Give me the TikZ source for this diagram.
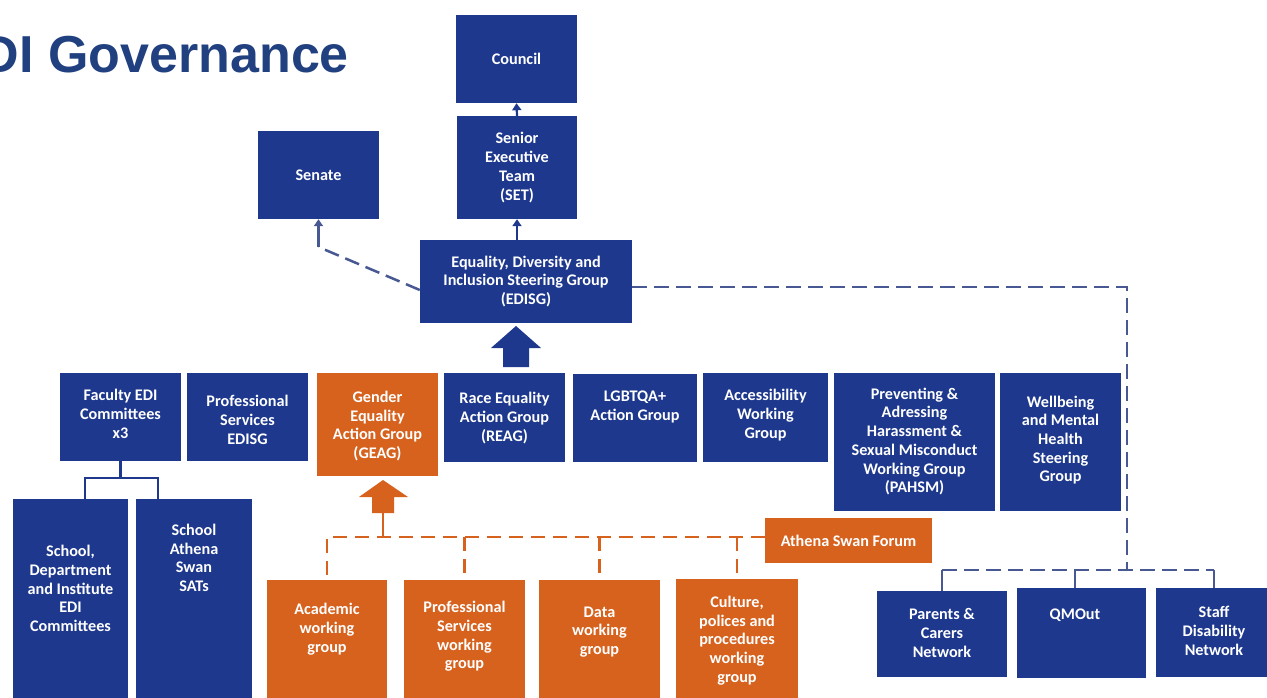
\documentclass[tikz,border=0pt]{standalone}
\usepackage{fontspec}
\setmainfont{Carlito}
\newfontfamily\titlefont{Liberation Sans}
\usetikzlibrary{arrows.meta,fit}
\definecolor{qblue}{RGB}{29,56,140}
\definecolor{qorange}{RGB}{214,98,30}
\definecolor{qtitle}{RGB}{33,64,128}
\definecolor{qdash}{RGB}{72,88,146}
\begin{document}
\begin{tikzpicture}[x=1pt,y=-1pt,
  bluebox/.style={fill=qblue,draw=none,inner sep=0pt},
  orangebox/.style={fill=qorange,draw=none,inner sep=0pt},
  lbl/.style={text=white,font=\bfseries\fontsize{16.2}{18.7}\selectfont,align=center,inner sep=0pt},
  link/.style={draw=qblue,line width=2.2pt},
  slink/.style={draw=qdash,line width=2.5pt},
  tipped/.style={-{Triangle[width=9pt,length=7pt]}},
  bdash/.style={draw=qdash,line width=2.5pt,dash pattern=on 15pt off 7pt},
  odash/.style={draw=qorange,line width=2.5pt,dash pattern=on 14pt off 8pt},
]
\useasboundingbox (0,0) rectangle (1267,697);
\fill[white] (0,0) rectangle (1267,697);

% title
\node[anchor=base west,text=qtitle,font=\titlefont\bfseries\fontsize{52}{60}\selectfont,inner sep=0pt] (title) at (-53,72) {EDI Governance};

% top level
\node[bluebox,fit={(456,15) (577,103)}] (council) {};
\node[lbl] (council-t) at (council.center) {Council};
\node[bluebox,fit={(457,116) (577,219)}] (set) {};
\node[lbl] (set-t) at (set.center) {Senior\\Executive\\Team\\(SET)};
\node[bluebox,fit={(258,131) (379,219)}] (senate) {};
\node[lbl] (senate-t) at (senate.center) {Senate};
\node[bluebox,fit={(420,240) (632,323)}] (edisg) {};
\node[lbl] (edisg-t) at (edisg.center) {Equality, Diversity and\\Inclusion Steering Group\\(EDISG)};

% middle row
\node[bluebox,fit={(60,373) (181,461)}] (faculty) {};
\node[lbl] (faculty-t) at (120.5,414) {Faculty EDI\\Committees\\x3};
\node[bluebox,fit={(187,373) (308,461)}] (psedisg) {};
\node[lbl] (psedisg-t) at (247.5,420) {Professional\\Services\\EDISG};
\node[orangebox,fit={(317,373) (438,476)}] (geag) {};
\node[lbl] (geag-t) at (377.5,426) {Gender\\Equality\\Action Group\\(GEAG)};
\node[bluebox,fit={(444,373) (565,462)}] (reag) {};
\node[lbl] (reag-t) at (504.5,418) {Race Equality\\Action Group\\(REAG)};
\node[bluebox,fit={(573,374) (697,462)}] (lgbt) {};
\node[lbl] (lgbt-t) at (635,407) {LGBTQA+\\Action Group};
\node[bluebox,fit={(703,373) (828,462)}] (access) {};
\node[lbl] (access-t) at (765.5,415) {Accessibility\\Working\\Group};
\node[bluebox,fit={(834,373) (995,511)}] (pahsm) {};
\node[lbl] (pahsm-t) at (914.5,441.5) {Preventing \&\\Adressing\\Harassment \&\\Sexual Misconduct\\Working Group\\(PAHSM)};
\node[bluebox,fit={(1000,373) (1121,511)}] (wellbeing) {};
\node[lbl] (wellbeing-t) at (1060.5,440) {Wellbeing\\and Mental\\Health\\Steering\\Group};

% left bottom
\node[bluebox,fit={(13,499) (128,705)}] (schooldept) {};
\node[lbl] (schooldept-t) at (70.5,588.5) {School,\\Department\\and Institute\\EDI\\Committees};
\node[bluebox,fit={(136,499) (252,705)}] (sats) {};
\node[lbl] (sats-t) at (194,558) {School\\Athena\\Swan\\SATs};

% orange working groups
\node[orangebox,fit={(765,518) (932,563)}] (athena) {};
\node[lbl] (athena-t) at (athena.center) {Athena Swan Forum};
\node[orangebox,fit={(267,580) (387,705)}] (academic) {};
\node[lbl] (academic-t) at (327,629) {Academic\\working\\group};
\node[orangebox,fit={(404,580) (525,705)}] (pswg) {};
\node[lbl] (pswg-t) at (464.5,636.5) {Professional\\Services\\working\\group};
\node[orangebox,fit={(539,580) (660,705)}] (data) {};
\node[lbl] (data-t) at (599.5,632) {Data\\working\\group};
\node[orangebox,fit={(676,579) (798,705)}] (culture) {};
\node[lbl] (culture-t) at (737,640.5) {Culture,\\polices and\\procedures\\working\\group};

% networks
\node[bluebox,fit={(877,591) (1007,677)}] (parents) {};
\node[lbl] (parents-t) at (942,633) {Parents \&\\Carers\\Network};
\node[bluebox,fit={(1017,588) (1146,678)}] (qmout) {};
\node[lbl] (qmout-t) at (1075,615) {QMOut};
\node[bluebox,fit={(1156,588) (1272,677)}] (staff) {};
\node[lbl] (staff-t) at (1214,631) {Staff\\Disability\\Network};

% solid arrows
\draw[link,tipped] (set.north) -- (council.south);
\draw[link,tipped] (edisg.north -| set.south) -- (set.south);

% senate dashed link
\coordinate (scorner) at (318.5,247);
\draw[bdash] ([yshift=-8.5pt]edisg.west) -- (senate.south |- scorner);
\draw[slink,tipped] (senate.south |- scorner) -- (senate.south);

% right dashed link to networks
\coordinate (rcorner) at (1127,287);
\coordinate (rbottom) at (1127,570);
\draw[bdash] (edisg.east |- rcorner) -- (rcorner) -- (rbottom);
\draw[bdash] (parents.north |- rbottom) -- (staff.north |- rbottom);
\draw[slink] (parents.north |- rbottom) -- (parents.north);
\draw[slink] ([xshift=-6.5pt]qmout.north |- rbottom) -- ([xshift=-6.5pt]qmout.north);
\draw[slink] (staff.north |- rbottom) -- (staff.north);

% faculty tree
\coordinate (fjoin) at (120.5,478);
\draw[link] (faculty.south) -- (fjoin);
\draw[link] ([xshift=14.5pt]schooldept.north) -- ([xshift=14.5pt]schooldept.north |- fjoin) -- ([xshift=-36pt]sats.north |- fjoin) -- ([xshift=-36pt]sats.north);

% blue block arrow
\fill[qblue] (503,367) -- (503,348) -- (491,348) -- (516,326) -- (541,348) -- (529,348) -- (529,367) -- cycle;
% orange block arrow
\fill[qorange] (372,513) -- (372,497) -- (359,497) -- (383,480) -- (408,497) -- (394,497) -- (394,513) -- cycle;
\coordinate (oarrow) at (383,513);
\draw[qorange,line width=2.2pt] (oarrow) -- (oarrow |- 0,537);

% orange dashed links
\coordinate (oline) at (0,537);
\draw[odash] (athena.west |- oline) -- (academic.north |- oline) -- (academic.north);
\draw[odash] (pswg.north |- oline) -- (pswg.north);
\draw[odash] (data.north |- oline) -- (data.north);
\draw[odash] (culture.north |- oline) -- (culture.north);
\end{tikzpicture}
\end{document}
